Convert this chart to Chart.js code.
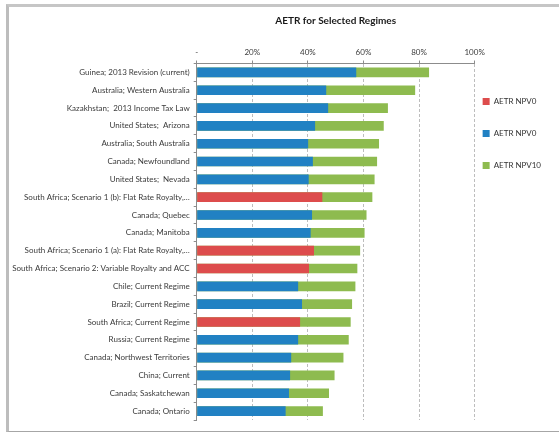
<!DOCTYPE html>
<html>
<head>
<meta charset="utf-8">
<script src="https://cdn.jsdelivr.net/npm/chart.js@4.4.0/dist/chart.umd.min.js"></script>
<style>
  html, body { margin: 0; padding: 0; background: #fff; }
  #frame {
    position: absolute; left: 6px; top: 4px; width: 553px; height: 424px;
    border-top: 3px solid #c6c6c6; border-left: 3px solid #bdbdbd; border-bottom: 1px solid #a6a6a6;
    box-sizing: content-box;
  }
  #chart { position: absolute; left: 0; top: 0; }
</style>
</head>
<body>
<div id="frame"></div>
<canvas id="chart" width="559" height="433"></canvas>
<script>
// regimes, top to bottom
const regimes = [
  'Guinea; 2013 Revision (current)',
  'Australia; Western Australia',
  'Kazakhstan;  2013 Income Tax Law',
  'United States;  Arizona',
  'Australia; South Australia',
  'Canada; Newfoundland',
  'United States;  Nevada',
  'South Africa; Scenario 1 (b): Flat Rate Royalty,…',
  'Canada; Quebec',
  'Canada; Manitoba',
  'South Africa; Scenario 1 (a): Flat Rate Royalty,…',
  'South Africa; Scenario 2: Variable Royalty and ACC',
  'Chile; Current Regime',
  'Brazil; Current Regime',
  'South Africa; Current Regime',
  'Russia; Current Regime',
  'Canada; Northwest Territories',
  'China; Current',
  'Canada; Saskatchewan',
  'Canada; Ontario'
]

// AETR NPV0 - South Africa rows (red)
const npv0SouthAfrica = [null, null, null, null, null, null, null, 45.2, null, null, 42.2, 40.4, null, null, 37.2, null, null, null, null, null]
// AETR NPV0 - other regimes (blue)
const npv0Other = [57.4, 46.6, 47.3, 42.6, 40.1, 41.8, 40.3, null, 41.5, 41.0, null, null, 36.5, 37.9, null, 36.5, 34.0, 33.6, 33.2, 32.0]
// AETR NPV10 (green)
const npv10 = [83.6, 78.6, 68.8, 67.3, 65.6, 64.9, 64.0, 63.2, 61.1, 60.4, 58.8, 57.8, 57.1, 55.9, 55.4, 54.7, 52.8, 49.6, 47.6, 45.4]

const xMax = 100
const xStep = 20

const FONT = 'Lato, "Open Sans", sans-serif'
const textColor = '#3a3a3a'
const axisColor = '#8c8c8c'

const ctx = document.getElementById('chart').getContext('2d')
const myChart = new Chart(ctx, {
  type: 'bar',
  data: {
    labels: regimes,
    datasets: [
      { label: 'AETR NPV0', data: npv0SouthAfrica, backgroundColor: '#dd4c4c', grouped: false },
      { label: 'AETR NPV0', data: npv0Other, backgroundColor: '#2181c3', grouped: false },
      { label: 'AETR NPV10', data: npv10, backgroundColor: '#8ebb4f', grouped: false }
    ]
  },
  options: {
    indexAxis: 'y',
    responsive: false,
    animation: false,
    barPercentage: 0.54,
    categoryPercentage: 1,
    layout: { padding: { top: 8, left: 8, right: 8, bottom: 13 } },
    plugins: {
      title: {
        display: true,
        text: 'AETR for Selected Regimes',
        fullSize: false,
        color: '#1a1a1a',
        font: { family: FONT, size: 10, weight: 'bold' },
        padding: { top: 7, bottom: 7 }
      },
      legend: {
        position: 'right',
        align: 'start',
        title: { display: true, text: '', padding: { top: 67, bottom: 0 } },
        labels: {
          boxWidth: 7,
          boxHeight: 7,
          padding: 8,
          color: '#333',
          font: { family: FONT, size: 8, lineHeight: 3 },
          // text as array so the line height sets the item spacing
          generateLabels: (chart) => Chart.defaults.plugins.legend.labels.generateLabels(chart)
            .map((el) => ({ ...el, text: [el.text], lineWidth: 0 }))
        }
      },
      tooltip: { enabled: false }
    },
    scales: {
      x: {
        position: 'top',
        min: 0,
        max: xMax,
        ticks: {
          stepSize: xStep,
          color: textColor,
          font: { family: FONT, size: 8 },
          padding: 3,
          callback: (v) => v === 0 ? '-' : v + '%'
        },
        grid: { color: '#bdbdbd', tickLength: 3, tickColor: axisColor },
        border: { color: axisColor, dash: [3, 2] },
        afterFit: (s) => { s.height = 29.5 }
      },
      y: {
        ticks: {
          autoSkip: false,
          color: textColor,
          font: { family: FONT, size: 8 },
          padding: 4
        },
        grid: { drawOnChartArea: false, tickLength: 3, color: axisColor },
        border: { color: axisColor },
        afterFit: (s) => { s.width = 188.7 }
      }
    }
  }
})
</script>
</body>
</html>
